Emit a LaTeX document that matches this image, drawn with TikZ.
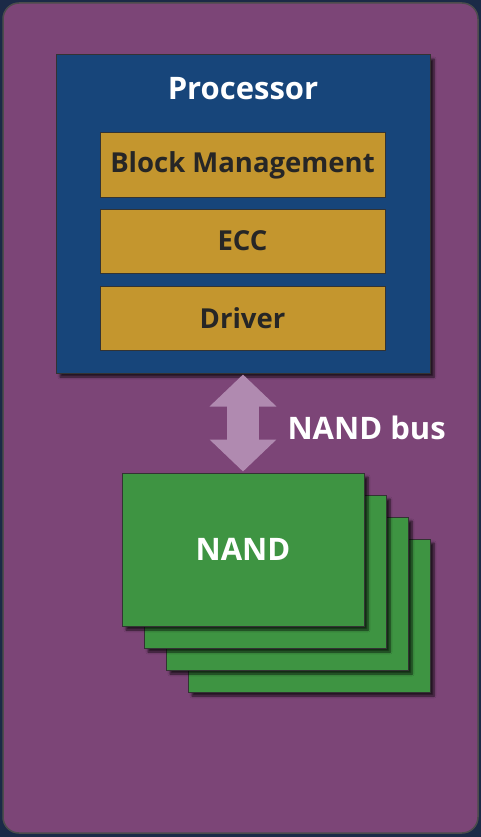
\documentclass[tikz,border=0pt]{standalone}
\usepackage{fontspec}
\setmainfont{Open Sans}
\usetikzlibrary{positioning,arrows.meta,shadows.blur}
\definecolor{navy}{HTML}{1B2A47}
\definecolor{plum}{HTML}{7C4577}
\definecolor{procblue}{HTML}{17457A}
\definecolor{layergold}{HTML}{C4962E}
\definecolor{nandgreen}{HTML}{3E9442}
\definecolor{buslilac}{HTML}{B08AB0}
\tikzset{
  proc/.style={draw=black!80,line width=1pt,fill=procblue,
    minimum width=374pt,minimum height=318pt,
    blur shadow={shadow xshift=4pt,shadow yshift=-4pt,shadow blur steps=6,shadow opacity=70}},
  layer/.style={draw=black!80,line width=1pt,fill=layergold,text=black!85,
    minimum width=285pt,minimum height=64pt,font=\bfseries\fontsize{27.5}{30}\selectfont},
  chip/.style={draw=black!80,line width=1pt,fill=nandgreen,text=white,
    minimum width=242pt,minimum height=153pt,font=\bfseries\fontsize{31}{34}\selectfont,
    blur shadow={shadow xshift=4pt,shadow yshift=-4pt,shadow blur steps=6,shadow opacity=70}},
  label/.style={text=white,font=\bfseries\fontsize{31}{34}\selectfont},
}
\begin{document}
\begin{tikzpicture}[x=1pt,y=-1pt]
  %% frame
  %% ------------------------------------
  \fill[navy] (0,0) rectangle (481,837);
  \draw[fill=plum,draw=black!70,line width=1.5pt,rounded corners=16pt] (3,3) rectangle (478,833);
  \useasboundingbox (0,0) rectangle (481,837);

  %% processor and its layers
  %% ------------------------------------
  \node[proc] (proc) at (243,214) {};
  \node[label] (proctext) at (243,89) {Processor};
  \node[layer] (blockmgmt) at (242.5,165) {Block Management};
  \node[layer] (ecc) at (242.5,241) {ECC};
  \node[layer] (driver) at (242.5,318.5) {Driver};

  %% NAND stack
  %% ------------------------------------
  \foreach \i in {3,2,1}
    \node[chip] (nand\i) at (243+22*\i,549.5+22*\i) {};
  \node[chip] (nand0) at (243,549.5) {NAND};

  %% bus
  %% ------------------------------------
  \draw[buslilac,line width=32pt,
        {Triangle[width=65pt,length=32pt]}-{Triangle[width=65pt,length=32pt]}]
    ([yshift=-1pt]proc.south) -- ([yshift=1pt]nand0.north);
  \node[label,anchor=west] (bus) at (284,428) {NAND bus};
\end{tikzpicture}
\end{document}
